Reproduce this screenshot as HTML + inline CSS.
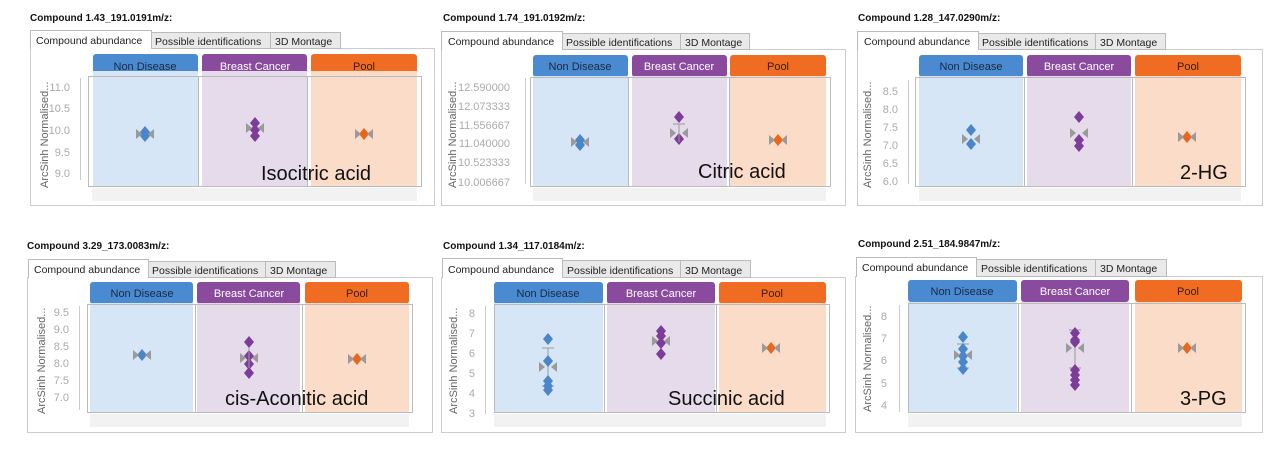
<!DOCTYPE html>
<html><head><meta charset="utf-8"><style>
html,body{margin:0;padding:0;background:#fff;width:1280px;height:455px;overflow:hidden}
svg{display:block;font-family:"Liberation Sans",sans-serif}
.t{font-size:10px;font-weight:bold;fill:#111}
.tab{font-size:10.5px;fill:#222}
.h{font-size:11px;text-anchor:middle}
.yl{font-size:11px;fill:#666}
.tk{font-size:11px;fill:#aaa;text-anchor:end}
.big{font-size:20px;fill:#111}
</style></head><body>
<svg width="1280" height="455" viewBox="0 0 1280 455">
<defs>
<path id="d" d="M0,-6L5,0L0,6L-5,0Z"/>
<path id="g" d="M-9,-5L-3,0L-9,5Z M9,-5L3,0L9,5Z" fill="#9a9a9a"/>
</defs>

<!-- Panel 1 -->
<text class="t" x="30" y="21">Compound 1.43_191.0191m/z:</text>
<rect x="30.5" y="48.5" width="404" height="157" fill="#fff" stroke="#ccc"/>
<rect x="151.5" y="32.5" width="119" height="16" fill="#e9e9e9" stroke="#bbb"/>
<rect x="270.5" y="32.5" width="70" height="16" fill="#e9e9e9" stroke="#bbb"/>
<rect x="30.5" y="30.5" width="121" height="18" fill="#fff" stroke="#bbb"/>
<rect x="31" y="47" width="120" height="3" fill="#fff"/>
<text class="tab" x="36" y="44">Compound abundance</text>
<text class="tab" x="155" y="45">Possible identifications</text>
<text class="tab" x="275" y="45">3D Montage</text>
<rect x="93" y="54" width="105" height="22" rx="3" fill="#4a8ad0"/><text class="h" x="145" y="70" fill="#1a2a40">Non Disease</text>
<rect x="202" y="54" width="105" height="22" rx="3" fill="#8a4a9e"/><text class="h" x="255" y="70" fill="#fff">Breast Cancer</text>
<rect x="311" y="54" width="106" height="22" rx="3" fill="#ef6c22"/><text class="h" x="364" y="70" fill="#3a1a0a">Pool</text>
<rect x="93" y="71" width="105" height="115" fill="#d6e6f6"/>
<rect x="202" y="71" width="105" height="115" fill="#e5dbea"/>
<rect x="311" y="71" width="106" height="115" fill="#fbdcc8"/>
<rect x="88.5" y="76.5" width="333" height="110" fill="none" stroke="#bbb"/>
<line x1="198.5" y1="76" x2="198.5" y2="186" stroke="#bbb"/><line x1="307.5" y1="76" x2="307.5" y2="186" stroke="#bbb"/>
<rect x="92" y="188" width="325" height="13" fill="#f2f2f2"/>
<text class="yl" transform="translate(48,188) rotate(-90)">ArcSinh Normalised...</text>
<text class="tk" x="70" y="91">11.0</text><text class="tk" x="70" y="112">10.5</text><text class="tk" x="70" y="134">10.0</text><text class="tk" x="70" y="156">9.5</text><text class="tk" x="70" y="177">9.0</text>
<line x1="80.5" y1="78" x2="80.5" y2="180" stroke="#ccc"/>
<use href="#d" x="145" y="132" fill="#4a86c8"/><use href="#d" x="145" y="136" fill="#4a86c8"/><use href="#g" x="145" y="134"/>
<use href="#d" x="255" y="123" fill="#7d3c98"/><use href="#d" x="255" y="130" fill="#7d3c98"/><use href="#d" x="255" y="136" fill="#7d3c98"/><use href="#g" x="255" y="128"/>
<use href="#d" x="364" y="134" fill="#e8661e"/><use href="#g" x="364" y="134"/>
<text class="big" x="261" y="180">Isocitric acid</text>

<!-- Panel 2 -->
<text class="t" x="443" y="21">Compound 1.74_191.0192m/z:</text>
<rect x="441.5" y="49.5" width="404" height="156" fill="#fff" stroke="#ccc"/>
<rect x="562.5" y="33.5" width="118" height="16" fill="#e9e9e9" stroke="#bbb"/>
<rect x="680.5" y="33.5" width="69" height="16" fill="#e9e9e9" stroke="#bbb"/>
<rect x="441.5" y="31.5" width="121" height="18" fill="#fff" stroke="#bbb"/>
<rect x="442" y="48" width="120" height="3" fill="#fff"/>
<text class="tab" x="448" y="45">Compound abundance</text>
<text class="tab" x="566" y="46">Possible identifications</text>
<text class="tab" x="685" y="46">3D Montage</text>
<rect x="533" y="55" width="95" height="22" rx="3" fill="#4a8ad0"/><text class="h" x="580" y="70" fill="#1a2a40">Non Disease</text>
<rect x="632" y="55" width="95" height="22" rx="3" fill="#8a4a9e"/><text class="h" x="679" y="70" fill="#fff">Breast Cancer</text>
<rect x="730" y="55" width="96" height="22" rx="3" fill="#ef6c22"/><text class="h" x="778" y="70" fill="#3a1a0a">Pool</text>
<rect x="533" y="76" width="95" height="110" fill="#d6e6f6"/>
<rect x="632" y="76" width="95" height="110" fill="#e5dbea"/>
<rect x="730" y="76" width="96" height="110" fill="#fbdcc8"/>
<rect x="530.5" y="77.5" width="300" height="109" fill="none" stroke="#bbb"/>
<line x1="628.5" y1="77" x2="628.5" y2="186" stroke="#bbb"/><line x1="729.5" y1="77" x2="729.5" y2="186" stroke="#bbb"/>
<rect x="533" y="188" width="293" height="13" fill="#f2f2f2"/>
<text class="yl" transform="translate(456,188) rotate(-90)">ArcSinh Normalised...</text>
<text class="tk" x="510" y="91">12.590000</text><text class="tk" x="510" y="110">12.073333</text><text class="tk" x="510" y="129">11.556667</text><text class="tk" x="510" y="147">11.040000</text><text class="tk" x="510" y="166">10.523333</text><text class="tk" x="510" y="186">10.006667</text>
<line x1="525.5" y1="78" x2="525.5" y2="184" stroke="#ccc"/>
<use href="#d" x="580" y="140" fill="#4a86c8"/><use href="#d" x="580" y="145" fill="#4a86c8"/><use href="#g" x="580" y="142"/>
<use href="#d" x="679" y="117" fill="#7d3c98"/><use href="#d" x="679" y="139" fill="#7d3c98"/><use href="#g" x="679" y="133"/>
<line x1="679" y1="124" x2="679" y2="142" stroke="#999"/><line x1="673" y1="124" x2="685" y2="124" stroke="#999"/>
<use href="#d" x="778" y="140" fill="#e8661e"/><use href="#g" x="778" y="140"/>
<text class="big" x="698" y="178">Citric acid</text>

<!-- Panel 3 -->
<text class="t" x="858" y="21">Compound 1.28_147.0290m/z:</text>
<rect x="857.5" y="49.5" width="405" height="156" fill="#fff" stroke="#ccc"/>
<rect x="978.5" y="33.5" width="117" height="16" fill="#e9e9e9" stroke="#bbb"/>
<rect x="1095.5" y="33.5" width="70" height="16" fill="#e9e9e9" stroke="#bbb"/>
<rect x="857.5" y="31.5" width="121" height="18" fill="#fff" stroke="#bbb"/>
<rect x="858" y="48" width="120" height="3" fill="#fff"/>
<text class="tab" x="864" y="45">Compound abundance</text>
<text class="tab" x="982" y="46">Possible identifications</text>
<text class="tab" x="1100" y="46">3D Montage</text>
<rect x="919" y="55" width="104" height="22" rx="3" fill="#4a8ad0"/><text class="h" x="971" y="70" fill="#1a2a40">Non Disease</text>
<rect x="1027" y="55" width="104" height="22" rx="3" fill="#8a4a9e"/><text class="h" x="1079" y="70" fill="#fff">Breast Cancer</text>
<rect x="1135" y="55" width="106" height="22" rx="3" fill="#ef6c22"/><text class="h" x="1188" y="70" fill="#3a1a0a">Pool</text>
<rect x="919" y="76" width="104" height="110" fill="#d6e6f6"/>
<rect x="1027" y="76" width="104" height="110" fill="#e5dbea"/>
<rect x="1135" y="76" width="106" height="110" fill="#fbdcc8"/>
<rect x="915.5" y="77.5" width="330" height="109" fill="none" stroke="#bbb"/>
<line x1="1024.5" y1="77" x2="1024.5" y2="186" stroke="#bbb"/><line x1="1132.5" y1="77" x2="1132.5" y2="186" stroke="#bbb"/>
<rect x="919" y="188" width="322" height="13" fill="#f2f2f2"/>
<text class="yl" transform="translate(871,188) rotate(-90)">ArcSinh Normalised...</text>
<text class="tk" x="898" y="95">8.5</text><text class="tk" x="898" y="113">8.0</text><text class="tk" x="898" y="131">7.5</text><text class="tk" x="898" y="149">7.0</text><text class="tk" x="898" y="167">6.5</text><text class="tk" x="898" y="185">6.0</text>
<line x1="908.5" y1="80" x2="908.5" y2="184" stroke="#ccc"/>
<use href="#d" x="971" y="130" fill="#4a86c8"/><use href="#d" x="971" y="144" fill="#4a86c8"/><use href="#g" x="971" y="139"/>
<use href="#d" x="1079" y="117" fill="#7d3c98"/><use href="#d" x="1079" y="140" fill="#7d3c98"/><use href="#d" x="1079" y="146" fill="#7d3c98"/><use href="#g" x="1079" y="133"/>
<use href="#d" x="1187" y="137" fill="#e8661e"/><use href="#g" x="1187" y="137"/>
<text class="big" x="1180" y="179">2-HG</text>

<!-- Panel 4 -->
<text class="t" x="27" y="249">Compound 3.29_173.0083m/z:</text>
<rect x="27.5" y="277.5" width="405" height="155" fill="#fff" stroke="#ccc"/>
<rect x="148.5" y="261.5" width="117" height="16" fill="#e9e9e9" stroke="#bbb"/>
<rect x="265.5" y="261.5" width="70" height="16" fill="#e9e9e9" stroke="#bbb"/>
<rect x="28.5" y="259.5" width="120" height="18" fill="#fff" stroke="#bbb"/>
<rect x="29" y="276" width="119" height="3" fill="#fff"/>
<text class="tab" x="34" y="273">Compound abundance</text>
<text class="tab" x="152" y="274">Possible identifications</text>
<text class="tab" x="270" y="274">3D Montage</text>
<rect x="90" y="282" width="103" height="22" rx="3" fill="#4a8ad0"/><text class="h" x="142" y="297" fill="#1a2a40">Non Disease</text>
<rect x="197" y="282" width="103" height="22" rx="3" fill="#8a4a9e"/><text class="h" x="249" y="297" fill="#fff">Breast Cancer</text>
<rect x="305" y="282" width="104" height="22" rx="3" fill="#ef6c22"/><text class="h" x="357" y="297" fill="#3a1a0a">Pool</text>
<rect x="90" y="303" width="103" height="109" fill="#d6e6f6"/>
<rect x="197" y="303" width="103" height="109" fill="#e5dbea"/>
<rect x="305" y="303" width="104" height="109" fill="#fbdcc8"/>
<rect x="87.5" y="304.5" width="325" height="108" fill="none" stroke="#bbb"/>
<line x1="195.5" y1="304" x2="195.5" y2="412" stroke="#bbb"/><line x1="302.5" y1="304" x2="302.5" y2="412" stroke="#bbb"/>
<rect x="90" y="414" width="319" height="13" fill="#f2f2f2"/>
<text class="yl" transform="translate(45,414) rotate(-90)">ArcSinh Normalised...</text>
<text class="tk" x="69" y="316">9.5</text><text class="tk" x="69" y="333">9.0</text><text class="tk" x="69" y="350">8.5</text><text class="tk" x="69" y="367">8.0</text><text class="tk" x="69" y="384">7.5</text><text class="tk" x="69" y="401">7.0</text>
<line x1="79.5" y1="306" x2="79.5" y2="410" stroke="#ccc"/>
<use href="#d" x="142" y="355" fill="#4a86c8"/><use href="#g" x="142" y="355"/>
<use href="#d" x="249" y="342" fill="#7d3c98"/><use href="#d" x="249" y="356" fill="#7d3c98"/><use href="#d" x="249" y="364" fill="#7d3c98"/><use href="#d" x="249" y="373" fill="#7d3c98"/><use href="#g" x="249" y="358"/>
<line x1="249" y1="348" x2="249" y2="368" stroke="#999"/>
<use href="#d" x="357" y="359" fill="#e8661e"/><use href="#g" x="357" y="359"/>
<text class="big" x="225" y="405">cis-Aconitic acid</text>

<!-- Panel 5 -->
<text class="t" x="443" y="249">Compound 1.34_117.0184m/z:</text>
<rect x="441.5" y="277.5" width="404" height="155" fill="#fff" stroke="#ccc"/>
<rect x="562.5" y="260.5" width="118" height="17" fill="#e9e9e9" stroke="#bbb"/>
<rect x="680.5" y="260.5" width="70" height="17" fill="#e9e9e9" stroke="#bbb"/>
<rect x="442.5" y="258.5" width="120" height="19" fill="#fff" stroke="#bbb"/>
<rect x="443" y="276" width="119" height="3" fill="#fff"/>
<text class="tab" x="448" y="273">Compound abundance</text>
<text class="tab" x="567" y="274">Possible identifications</text>
<text class="tab" x="685" y="274">3D Montage</text>
<rect x="494" y="282" width="109" height="22" rx="3" fill="#4a8ad0"/><text class="h" x="548" y="297" fill="#1a2a40">Non Disease</text>
<rect x="607" y="282" width="108" height="22" rx="3" fill="#8a4a9e"/><text class="h" x="661" y="297" fill="#fff">Breast Cancer</text>
<rect x="719" y="282" width="107" height="22" rx="3" fill="#ef6c22"/><text class="h" x="772" y="297" fill="#3a1a0a">Pool</text>
<rect x="494" y="303" width="109" height="109" fill="#d6e6f6"/>
<rect x="607" y="303" width="108" height="109" fill="#e5dbea"/>
<rect x="719" y="303" width="107" height="109" fill="#fbdcc8"/>
<rect x="494.5" y="304.5" width="335" height="108" fill="none" stroke="#bbb"/>
<line x1="604.5" y1="304" x2="604.5" y2="412" stroke="#bbb"/><line x1="716.5" y1="304" x2="716.5" y2="412" stroke="#bbb"/>
<rect x="494" y="414" width="332" height="13" fill="#f2f2f2"/>
<text class="yl" transform="translate(457,414) rotate(-90)">ArcSinh Normalised...</text>
<text class="tk" x="475" y="317">8</text><text class="tk" x="475" y="337">7</text><text class="tk" x="475" y="357">6</text><text class="tk" x="475" y="377">5</text><text class="tk" x="475" y="397">4</text><text class="tk" x="475" y="417">3</text>
<line x1="485.5" y1="306" x2="485.5" y2="414" stroke="#ccc"/>
<line x1="548" y1="348" x2="548" y2="386" stroke="#999"/><line x1="542" y1="348" x2="554" y2="348" stroke="#999"/><line x1="542" y1="386" x2="554" y2="386" stroke="#999"/>
<use href="#d" x="548" y="339" fill="#4a86c8"/><use href="#d" x="548" y="361" fill="#4a86c8"/><use href="#d" x="548" y="381" fill="#4a86c8"/><use href="#d" x="548" y="386" fill="#4a86c8"/><use href="#d" x="548" y="390" fill="#4a86c8"/><use href="#g" x="548" y="367"/>
<line x1="661" y1="331" x2="661" y2="352" stroke="#999"/>
<use href="#d" x="661" y="331" fill="#7d3c98"/><use href="#d" x="661" y="336" fill="#7d3c98"/><use href="#d" x="661" y="343" fill="#7d3c98"/><use href="#d" x="661" y="354" fill="#7d3c98"/><use href="#g" x="661" y="341"/>
<use href="#d" x="771" y="348" fill="#e8661e"/><use href="#g" x="771" y="348"/>
<text class="big" x="668" y="405">Succinic acid</text>

<!-- Panel 6 -->
<text class="t" x="858" y="247">Compound 2.51_184.9847m/z:</text>
<rect x="855.5" y="276.5" width="407" height="156" fill="#fff" stroke="#ccc"/>
<rect x="976.5" y="259.5" width="119" height="17" fill="#e9e9e9" stroke="#bbb"/>
<rect x="1095.5" y="259.5" width="71" height="17" fill="#e9e9e9" stroke="#bbb"/>
<rect x="856.5" y="257.5" width="120" height="19" fill="#fff" stroke="#bbb"/>
<rect x="857" y="275" width="119" height="3" fill="#fff"/>
<text class="tab" x="862" y="271">Compound abundance</text>
<text class="tab" x="981" y="272">Possible identifications</text>
<text class="tab" x="1100" y="272">3D Montage</text>
<rect x="908" y="280" width="109" height="22" rx="3" fill="#4a8ad0"/><text class="h" x="962" y="295" fill="#1a2a40">Non Disease</text>
<rect x="1021" y="280" width="108" height="22" rx="3" fill="#8a4a9e"/><text class="h" x="1075" y="295" fill="#fff">Breast Cancer</text>
<rect x="1135" y="280" width="107" height="22" rx="3" fill="#ef6c22"/><text class="h" x="1188" y="295" fill="#3a1a0a">Pool</text>
<rect x="908" y="302" width="109" height="110" fill="#d6e6f6"/>
<rect x="1021" y="302" width="108" height="110" fill="#e5dbea"/>
<rect x="1135" y="302" width="107" height="110" fill="#fbdcc8"/>
<rect x="908.5" y="303.5" width="337" height="109" fill="none" stroke="#bbb"/>
<line x1="1018.5" y1="303" x2="1018.5" y2="412" stroke="#bbb"/><line x1="1131.5" y1="303" x2="1131.5" y2="412" stroke="#bbb"/>
<rect x="908" y="414" width="334" height="13" fill="#f2f2f2"/>
<text class="yl" transform="translate(871,412) rotate(-90)">ArcSinh Normalised...</text>
<text class="tk" x="887" y="320">8</text><text class="tk" x="887" y="342">7</text><text class="tk" x="887" y="364">6</text><text class="tk" x="887" y="387">5</text><text class="tk" x="887" y="409">4</text>
<line x1="899.5" y1="305" x2="899.5" y2="412" stroke="#ccc"/>
<line x1="963" y1="344" x2="963" y2="368" stroke="#999"/><line x1="957" y1="344" x2="969" y2="344" stroke="#999"/><line x1="957" y1="368" x2="969" y2="368" stroke="#999"/>
<use href="#d" x="963" y="337" fill="#4a86c8"/><use href="#d" x="963" y="349" fill="#4a86c8"/><use href="#d" x="963" y="356" fill="#4a86c8"/><use href="#d" x="963" y="362" fill="#4a86c8"/><use href="#d" x="963" y="369" fill="#4a86c8"/><use href="#g" x="963" y="355"/>
<line x1="1075" y1="330" x2="1075" y2="368" stroke="#999"/><line x1="1069" y1="330" x2="1081" y2="330" stroke="#999"/><line x1="1069" y1="368" x2="1081" y2="368" stroke="#999"/>
<use href="#d" x="1075" y="333" fill="#7d3c98"/><use href="#d" x="1075" y="340" fill="#7d3c98"/><use href="#d" x="1075" y="342" fill="#7d3c98"/><use href="#d" x="1075" y="370" fill="#7d3c98"/><use href="#d" x="1075" y="375" fill="#7d3c98"/><use href="#d" x="1075" y="380" fill="#7d3c98"/><use href="#d" x="1075" y="385" fill="#7d3c98"/><use href="#g" x="1075" y="348"/>
<use href="#d" x="1187" y="348" fill="#e8661e"/><use href="#g" x="1187" y="348"/>
<text class="big" x="1180" y="405">3-PG</text>
</svg>
</body></html>
